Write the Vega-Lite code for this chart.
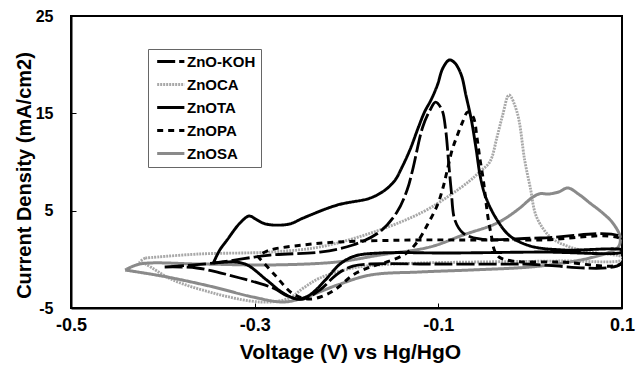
{
  "$schema": "https://vega.github.io/schema/vega-lite/v6.json",
  "width": 551,
  "height": 292,
  "autosize": "none",
  "padding": {"left": 71, "top": 16, "right": 15, "bottom": 57},
  "background": "white",
  "config": {
    "font": "Liberation Sans",
    "view": {"stroke": "black", "strokeWidth": 2},
    "axis": {"grid": false, "domainColor": "black", "domainWidth": 2, "tickColor": "black", "tickWidth": 1, "labelColor": "black", "titleColor": "black", "labelFont": "Liberation Sans", "titleFont": "Liberation Sans", "labelFontWeight": "bold", "titleFontWeight": "bold"}
  },
  "data": {"values": [
    {"s":"ZnOCA","o":1,"v":-0.419,"i":0.14},
    {"s":"ZnOCA","o":2,"v":-0.360,"i":0.55},
    {"s":"ZnOCA","o":3,"v":-0.283,"i":0.75},
    {"s":"ZnOCA","o":4,"v":-0.229,"i":1.27},
    {"s":"ZnOCA","o":5,"v":-0.167,"i":2.91},
    {"s":"ZnOCA","o":6,"v":-0.117,"i":4.86},
    {"s":"ZnOCA","o":7,"v":-0.087,"i":6.61},
    {"s":"ZnOCA","o":8,"v":-0.066,"i":8.05},
    {"s":"ZnOCA","o":9,"v":-0.055,"i":9.0},
    {"s":"ZnOCA","o":10,"v":-0.044,"i":10.0},
    {"s":"ZnOCA","o":11,"v":-0.036,"i":12.6},
    {"s":"ZnOCA","o":12,"v":-0.030,"i":14.8},
    {"s":"ZnOCA","o":13,"v":-0.023,"i":16.88},
    {"s":"ZnOCA","o":14,"v":-0.014,"i":15.03},
    {"s":"ZnOCA","o":15,"v":-0.006,"i":10.2},
    {"s":"ZnOCA","o":16,"v":0.000,"i":7.43},
    {"s":"ZnOCA","o":17,"v":0.007,"i":4.35},
    {"s":"ZnOCA","o":18,"v":0.022,"i":2.29},
    {"s":"ZnOCA","o":19,"v":0.043,"i":1.27},
    {"s":"ZnOCA","o":20,"v":0.073,"i":0.65},
    {"s":"ZnOCA","o":21,"v":0.100,"i":0.24},
    {"s":"ZnOCA","o":22,"v":0.100,"i":-0.07},
    {"s":"ZnOCA","o":23,"v":0.033,"i":-0.17},
    {"s":"ZnOCA","o":24,"v":-0.055,"i":-0.27},
    {"s":"ZnOCA","o":25,"v":-0.120,"i":-0.38},
    {"s":"ZnOCA","o":26,"v":-0.164,"i":-0.58},
    {"s":"ZnOCA","o":27,"v":-0.193,"i":-0.89},
    {"s":"ZnOCA","o":28,"v":-0.229,"i":-1.92},
    {"s":"ZnOCA","o":29,"v":-0.247,"i":-2.95},
    {"s":"ZnOCA","o":30,"v":-0.262,"i":-3.97},
    {"s":"ZnOCA","o":31,"v":-0.283,"i":-4.38},
    {"s":"ZnOCA","o":32,"v":-0.305,"i":-4.28},
    {"s":"ZnOCA","o":33,"v":-0.345,"i":-3.46},
    {"s":"ZnOCA","o":34,"v":-0.389,"i":-2.12},
    {"s":"ZnOCA","o":35,"v":-0.419,"i":-0.48},
    {"s":"ZnOCA","o":36,"v":-0.425,"i":-0.27},
    {"s":"ZnOCA","o":37,"v":-0.419,"i":0.14},

    {"s":"ZnOSA","o":1,"v":-0.441,"i":-1.10},
    {"s":"ZnOSA","o":2,"v":-0.395,"i":-1.82},
    {"s":"ZnOSA","o":3,"v":-0.345,"i":-2.84},
    {"s":"ZnOSA","o":4,"v":-0.302,"i":-3.87},
    {"s":"ZnOSA","o":5,"v":-0.269,"i":-4.38},
    {"s":"ZnOSA","o":6,"v":-0.247,"i":-3.97},
    {"s":"ZnOSA","o":7,"v":-0.210,"i":-2.64},
    {"s":"ZnOSA","o":8,"v":-0.174,"i":-1.61},
    {"s":"ZnOSA","o":9,"v":-0.120,"i":-1.30},
    {"s":"ZnOSA","o":10,"v":-0.066,"i":-1.10},
    {"s":"ZnOSA","o":11,"v":0.000,"i":-0.79},
    {"s":"ZnOSA","o":12,"v":0.036,"i":-0.38},
    {"s":"ZnOSA","o":13,"v":0.065,"i":0.14},
    {"s":"ZnOSA","o":14,"v":0.084,"i":0.65},
    {"s":"ZnOSA","o":15,"v":0.096,"i":1.27},
    {"s":"ZnOSA","o":16,"v":0.098,"i":2.29},
    {"s":"ZnOSA","o":17,"v":0.090,"i":3.73},
    {"s":"ZnOSA","o":18,"v":0.079,"i":4.76},
    {"s":"ZnOSA","o":19,"v":0.065,"i":5.79},
    {"s":"ZnOSA","o":20,"v":0.054,"i":6.61},
    {"s":"ZnOSA","o":21,"v":0.041,"i":7.33},
    {"s":"ZnOSA","o":22,"v":0.031,"i":6.92},
    {"s":"ZnOSA","o":23,"v":0.020,"i":6.71},
    {"s":"ZnOSA","o":24,"v":0.011,"i":6.75},
    {"s":"ZnOSA","o":25,"v":0.003,"i":6.40},
    {"s":"ZnOSA","o":26,"v":-0.014,"i":5.07},
    {"s":"ZnOSA","o":27,"v":-0.036,"i":3.73},
    {"s":"ZnOSA","o":28,"v":-0.073,"i":2.50},
    {"s":"ZnOSA","o":29,"v":-0.109,"i":1.27},
    {"s":"ZnOSA","o":30,"v":-0.164,"i":0.44},
    {"s":"ZnOSA","o":31,"v":-0.210,"i":-0.27},
    {"s":"ZnOSA","o":32,"v":-0.283,"i":-0.58},
    {"s":"ZnOSA","o":33,"v":-0.360,"i":-0.48},
    {"s":"ZnOSA","o":34,"v":-0.425,"i":-0.48},
    {"s":"ZnOSA","o":35,"v":-0.441,"i":-1.10},

    {"s":"ZnO-KOH","o":1,"v":-0.398,"i":-0.79},
    {"s":"ZnO-KOH","o":2,"v":-0.363,"i":-0.89},
    {"s":"ZnO-KOH","o":3,"v":-0.316,"i":-1.92},
    {"s":"ZnO-KOH","o":4,"v":-0.280,"i":-2.95},
    {"s":"ZnO-KOH","o":5,"v":-0.262,"i":-3.87},
    {"s":"ZnO-KOH","o":6,"v":-0.247,"i":-4.08},
    {"s":"ZnO-KOH","o":7,"v":-0.229,"i":-3.15},
    {"s":"ZnO-KOH","o":8,"v":-0.210,"i":-1.51},
    {"s":"ZnO-KOH","o":9,"v":-0.193,"i":-0.69},
    {"s":"ZnO-KOH","o":10,"v":-0.174,"i":-0.48},
    {"s":"ZnO-KOH","o":11,"v":-0.120,"i":-0.48},
    {"s":"ZnO-KOH","o":12,"v":-0.011,"i":-0.48},
    {"s":"ZnO-KOH","o":13,"v":0.100,"i":-0.38},
    {"s":"ZnO-KOH","o":14,"v":0.100,"i":2.19},
    {"s":"ZnO-KOH","o":15,"v":0.011,"i":2.19},
    {"s":"ZnO-KOH","o":16,"v":-0.055,"i":2.09},
    {"s":"ZnO-KOH","o":17,"v":-0.073,"i":2.70},
    {"s":"ZnO-KOH","o":18,"v":-0.082,"i":4.04},
    {"s":"ZnO-KOH","o":19,"v":-0.086,"i":7.12},
    {"s":"ZnO-KOH","o":20,"v":-0.089,"i":10.20},
    {"s":"ZnO-KOH","o":21,"v":-0.092,"i":13.29},
    {"s":"ZnO-KOH","o":22,"v":-0.096,"i":15.34},
    {"s":"ZnO-KOH","o":23,"v":-0.103,"i":16.16},
    {"s":"ZnO-KOH","o":24,"v":-0.109,"i":15.34},
    {"s":"ZnO-KOH","o":25,"v":-0.117,"i":13.60},
    {"s":"ZnO-KOH","o":26,"v":-0.128,"i":9.18},
    {"s":"ZnO-KOH","o":27,"v":-0.134,"i":7.12},
    {"s":"ZnO-KOH","o":28,"v":-0.145,"i":4.86},
    {"s":"ZnO-KOH","o":29,"v":-0.164,"i":2.81},
    {"s":"ZnO-KOH","o":30,"v":-0.193,"i":1.47},
    {"s":"ZnO-KOH","o":31,"v":-0.229,"i":0.75},
    {"s":"ZnO-KOH","o":32,"v":-0.283,"i":0.44},
    {"s":"ZnO-KOH","o":33,"v":-0.345,"i":-0.38},
    {"s":"ZnO-KOH","o":34,"v":-0.398,"i":-0.79},

    {"s":"ZnOTA","o":1,"v":-0.345,"i":-0.38},
    {"s":"ZnOTA","o":2,"v":-0.338,"i":0.96},
    {"s":"ZnOTA","o":3,"v":-0.330,"i":1.99},
    {"s":"ZnOTA","o":4,"v":-0.316,"i":3.73},
    {"s":"ZnOTA","o":5,"v":-0.306,"i":4.45},
    {"s":"ZnOTA","o":6,"v":-0.299,"i":4.14},
    {"s":"ZnOTA","o":7,"v":-0.291,"i":3.73},
    {"s":"ZnOTA","o":8,"v":-0.281,"i":3.53},
    {"s":"ZnOTA","o":9,"v":-0.262,"i":3.63},
    {"s":"ZnOTA","o":10,"v":-0.247,"i":4.25},
    {"s":"ZnOTA","o":11,"v":-0.210,"i":5.58},
    {"s":"ZnOTA","o":12,"v":-0.174,"i":6.30},
    {"s":"ZnOTA","o":13,"v":-0.158,"i":7.12},
    {"s":"ZnOTA","o":14,"v":-0.147,"i":8.15},
    {"s":"ZnOTA","o":15,"v":-0.140,"i":9.38},
    {"s":"ZnOTA","o":16,"v":-0.131,"i":11.23},
    {"s":"ZnOTA","o":17,"v":-0.122,"i":13.49},
    {"s":"ZnOTA","o":18,"v":-0.115,"i":15.14},
    {"s":"ZnOTA","o":19,"v":-0.108,"i":16.37},
    {"s":"ZnOTA","o":20,"v":-0.101,"i":17.91},
    {"s":"ZnOTA","o":21,"v":-0.095,"i":19.66},
    {"s":"ZnOTA","o":22,"v":-0.088,"i":20.48},
    {"s":"ZnOTA","o":23,"v":-0.082,"i":20.17},
    {"s":"ZnOTA","o":24,"v":-0.075,"i":18.94},
    {"s":"ZnOTA","o":25,"v":-0.070,"i":16.88},
    {"s":"ZnOTA","o":26,"v":-0.064,"i":14.31},
    {"s":"ZnOTA","o":27,"v":-0.059,"i":11.44},
    {"s":"ZnOTA","o":28,"v":-0.054,"i":8.36},
    {"s":"ZnOTA","o":29,"v":-0.048,"i":6.30},
    {"s":"ZnOTA","o":30,"v":-0.036,"i":4.04},
    {"s":"ZnOTA","o":31,"v":-0.022,"i":2.40},
    {"s":"ZnOTA","o":32,"v":0.000,"i":1.37},
    {"s":"ZnOTA","o":33,"v":0.036,"i":0.96},
    {"s":"ZnOTA","o":34,"v":0.100,"i":0.96},
    {"s":"ZnOTA","o":35,"v":0.100,"i":0.75},
    {"s":"ZnOTA","o":36,"v":0.011,"i":0.75},
    {"s":"ZnOTA","o":37,"v":-0.087,"i":0.65},
    {"s":"ZnOTA","o":38,"v":-0.164,"i":0.65},
    {"s":"ZnOTA","o":39,"v":-0.191,"i":0.34},
    {"s":"ZnOTA","o":40,"v":-0.207,"i":-0.48},
    {"s":"ZnOTA","o":41,"v":-0.223,"i":-2.12},
    {"s":"ZnOTA","o":42,"v":-0.240,"i":-3.66},
    {"s":"ZnOTA","o":43,"v":-0.253,"i":-4.08},
    {"s":"ZnOTA","o":44,"v":-0.269,"i":-3.46},
    {"s":"ZnOTA","o":45,"v":-0.287,"i":-2.12},
    {"s":"ZnOTA","o":46,"v":-0.308,"i":-0.58},
    {"s":"ZnOTA","o":47,"v":-0.321,"i":-0.27},
    {"s":"ZnOTA","o":48,"v":-0.330,"i":-0.27},
    {"s":"ZnOTA","o":49,"v":-0.345,"i":-0.38},

    {"s":"ZnOPA","o":1,"v":-0.297,"i":0.34},
    {"s":"ZnOPA","o":2,"v":-0.278,"i":-1.61},
    {"s":"ZnOPA","o":3,"v":-0.258,"i":-3.56},
    {"s":"ZnOPA","o":4,"v":-0.240,"i":-4.08},
    {"s":"ZnOPA","o":5,"v":-0.223,"i":-3.66},
    {"s":"ZnOPA","o":6,"v":-0.210,"i":-2.95},
    {"s":"ZnOPA","o":7,"v":-0.193,"i":-1.61},
    {"s":"ZnOPA","o":8,"v":-0.174,"i":-0.79},
    {"s":"ZnOPA","o":9,"v":-0.156,"i":-0.27},
    {"s":"ZnOPA","o":10,"v":-0.136,"i":0.55},
    {"s":"ZnOPA","o":11,"v":-0.123,"i":1.78},
    {"s":"ZnOPA","o":12,"v":-0.112,"i":3.53},
    {"s":"ZnOPA","o":13,"v":-0.101,"i":5.58},
    {"s":"ZnOPA","o":14,"v":-0.095,"i":7.33},
    {"s":"ZnOPA","o":15,"v":-0.091,"i":8.87},
    {"s":"ZnOPA","o":16,"v":-0.085,"i":11.23},
    {"s":"ZnOPA","o":17,"v":-0.080,"i":12.57},
    {"s":"ZnOPA","o":18,"v":-0.074,"i":14.01},
    {"s":"ZnOPA","o":19,"v":-0.068,"i":15.14},
    {"s":"ZnOPA","o":20,"v":-0.062,"i":14.62},
    {"s":"ZnOPA","o":21,"v":-0.058,"i":12.57},
    {"s":"ZnOPA","o":22,"v":-0.055,"i":10.51},
    {"s":"ZnOPA","o":23,"v":-0.051,"i":8.15},
    {"s":"ZnOPA","o":24,"v":-0.049,"i":6.61},
    {"s":"ZnOPA","o":25,"v":-0.046,"i":4.35},
    {"s":"ZnOPA","o":26,"v":-0.042,"i":2.29},
    {"s":"ZnOPA","o":27,"v":-0.039,"i":0.96},
    {"s":"ZnOPA","o":28,"v":-0.034,"i":0.24},
    {"s":"ZnOPA","o":29,"v":-0.020,"i":-0.17},
    {"s":"ZnOPA","o":30,"v":0.033,"i":-0.27},
    {"s":"ZnOPA","o":31,"v":0.100,"i":-0.38},
    {"s":"ZnOPA","o":32,"v":0.100,"i":1.99},
    {"s":"ZnOPA","o":33,"v":0.011,"i":1.99},
    {"s":"ZnOPA","o":34,"v":-0.066,"i":1.99},
    {"s":"ZnOPA","o":35,"v":-0.123,"i":1.99},
    {"s":"ZnOPA","o":36,"v":-0.210,"i":1.78},
    {"s":"ZnOPA","o":37,"v":-0.247,"i":1.47},
    {"s":"ZnOPA","o":38,"v":-0.283,"i":0.96},
    {"s":"ZnOPA","o":39,"v":-0.297,"i":0.34}
  ]},
  "mark": {"type": "line", "interpolate": "catmull-rom", "clip": true},
  "encoding": {
    "x": {"field": "v", "type": "quantitative",
      "scale": {"domain": [-0.5, 0.1], "nice": false, "zero": false},
      "axis": {"title": "Voltage (V) vs Hg/HgO", "values": [-0.5, -0.3, -0.1, 0.1],
        "labelExpr": "datum.value < 0 ? '-' + format(-datum.value, '.1f') : format(datum.value, '.1f')",
        "labelFontSize": 18, "titleFontSize": 21, "tickSize": -5, "labelPadding": 13, "labelFlush": false,
        "titleX": 279, "titleY": 50, "titleBaseline": "alphabetic", "titleAnchor": "middle", "titleAlign": "center"}},
    "y": {"field": "i", "type": "quantitative",
      "scale": {"domain": [-5, 25], "nice": false, "zero": false},
      "axis": {"title": "Current Density (mA/cm2)", "values": [-5, 5, 15, 25],
        "labelExpr": "datum.value < 0 ? '-' + format(-datum.value, 'd') : format(datum.value, 'd')",
        "labelFontSize": 16, "titleFontSize": 20, "tickSize": -5, "labelPadding": 23, "labelFlush": false,
        "titleX": -41, "titleY": 159, "titleBaseline": "alphabetic", "titleAlign": "center", "titleAngle": -90}},
    "color": {"field": "s", "type": "nominal",
      "scale": {"domain": ["ZnO-KOH", "ZnOCA", "ZnOTA", "ZnOPA", "ZnOSA"], "range": ["#000000", "#a8a8a8", "#000000", "#000000", "#8a8a8a"]},
      "legend": {"title": null, "orient": "none", "legendX": 77, "legendY": 33, "strokeColor": "#666666", "fillColor": "white",
        "padding": 5, "symbolType": "M-1,0H7.2", "symbolSize": 44, "labelOffset": 19, "rowPadding": 7,
        "labelFontSize": 15, "labelFont": "Liberation Sans", "labelFontWeight": "bold", "labelColor": "black"}},
    "strokeDash": {"field": "s", "type": "nominal",
      "scale": {"domain": ["ZnO-KOH", "ZnOCA", "ZnOTA", "ZnOPA", "ZnOSA"], "range": [[18, 4], [2, 1], [1, 0], [6, 5], [1, 0]]},
      "legend": {"title": null, "orient": "none", "legendX": 77, "legendY": 33, "strokeColor": "#666666", "fillColor": "white",
        "padding": 5, "symbolType": "M-1,0H7.2", "symbolSize": 44, "labelOffset": 19, "rowPadding": 7,
        "labelFontSize": 15, "labelFont": "Liberation Sans", "labelFontWeight": "bold", "labelColor": "black"}},
    "strokeWidth": {"field": "s", "type": "nominal",
      "scale": {"domain": ["ZnO-KOH", "ZnOCA", "ZnOTA", "ZnOPA", "ZnOSA"], "range": [2.8, 3, 2, 2.8, 3]},
      "legend": {"title": null, "orient": "none", "legendX": 77, "legendY": 33, "strokeColor": "#666666", "fillColor": "white",
        "padding": 5, "symbolType": "M-1,0H7.2", "symbolSize": 44, "labelOffset": 19, "rowPadding": 7,
        "labelFontSize": 15, "labelFont": "Liberation Sans", "labelFontWeight": "bold", "labelColor": "black"}},
    "order": {"field": "o", "type": "quantitative"}
  }
}
